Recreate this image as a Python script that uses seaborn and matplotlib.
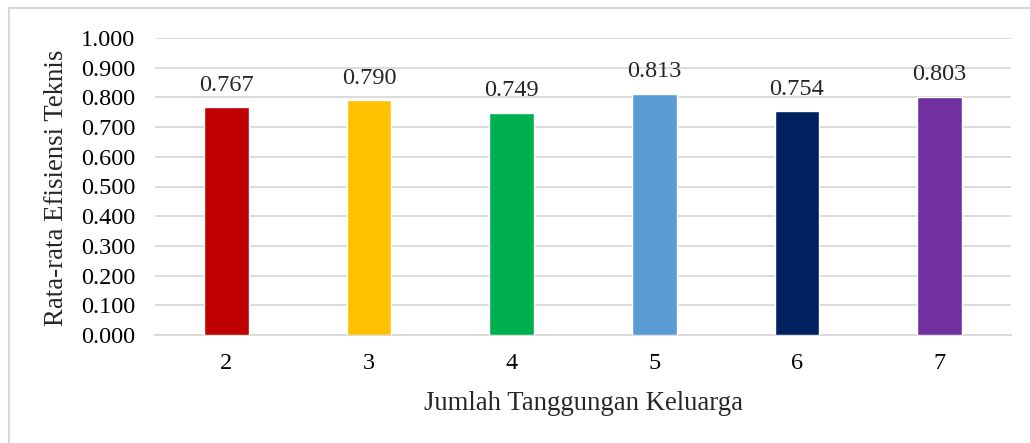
import matplotlib
matplotlib.use("Agg")
import matplotlib.pyplot as plt
import seaborn as sns
import pandas as pd
from matplotlib.patches import Rectangle

# Average technical efficiency by number of family dependents
categories = ["2", "3", "4", "5", "6", "7"]
values = [0.767, 0.790, 0.749, 0.813, 0.754, 0.803]
bar_colors = ["#C00000", "#FFC000", "#00B050", "#5B9BD5", "#002060", "#7030A0"]
y_ticks = [0.0, 0.1, 0.2, 0.3, 0.4, 0.5, 0.6, 0.7, 0.8, 0.9, 1.0]

sns.set_theme(style="white")
plt.rcParams["font.family"] = ["Liberation Serif", "DejaVu Serif"]

df = pd.DataFrame({"kategori": categories, "nilai": values})

fig = plt.figure(figsize=(10.30, 4.43), dpi=100)
ax = fig.add_axes([155 / 1030, 1 - 335 / 443, (1011 - 155) / 1030, (335 - 38) / 443])

sns.barplot(data=df, x="kategori", y="nilai", hue="kategori", palette=bar_colors,
            legend=False, width=0.315, saturation=1, ax=ax, zorder=3)

ax.set_ylim(0, 1.0)
ax.set_xlim(-0.5, len(categories) - 0.5)
ax.set_yticks(y_ticks)
ax.set_yticklabels([f"{t:.3f}" for t in y_ticks])
ax.yaxis.grid(True, color="#d9d9d9", linewidth=1.3, zorder=0)
ax.set_axisbelow(True)

for side in ["top", "right", "left"]:
    ax.spines[side].set_visible(False)
ax.spines["bottom"].set_color("#d9d9d9")
ax.spines["bottom"].set_linewidth(1.3)

ax.tick_params(axis="both", length=0, labelsize=17.5, colors="black")
ax.tick_params(axis="x", pad=13)
ax.tick_params(axis="y", pad=14)

for container in ax.containers:
    ax.bar_label(container, fmt="%.3f", padding=8, fontsize=17.5)

ax.set_xlabel("Jumlah Tanggungan Keluarga", fontsize=19.3, labelpad=12)
ax.set_ylabel("Rata-rata Efisiensi Teknis", fontsize=19.3)
ax.yaxis.set_label_coords((69 - 155) / 856, 0.495)

# light frame around the whole chart
fig.patches.append(Rectangle((9 / 1030, -0.05), 1.1, 1 - 8 / 443 + 0.05,
                             transform=fig.transFigure, fill=False,
                             edgecolor="#d9d9d9", linewidth=1.5))

fig.savefig("out.png", dpi=100)
